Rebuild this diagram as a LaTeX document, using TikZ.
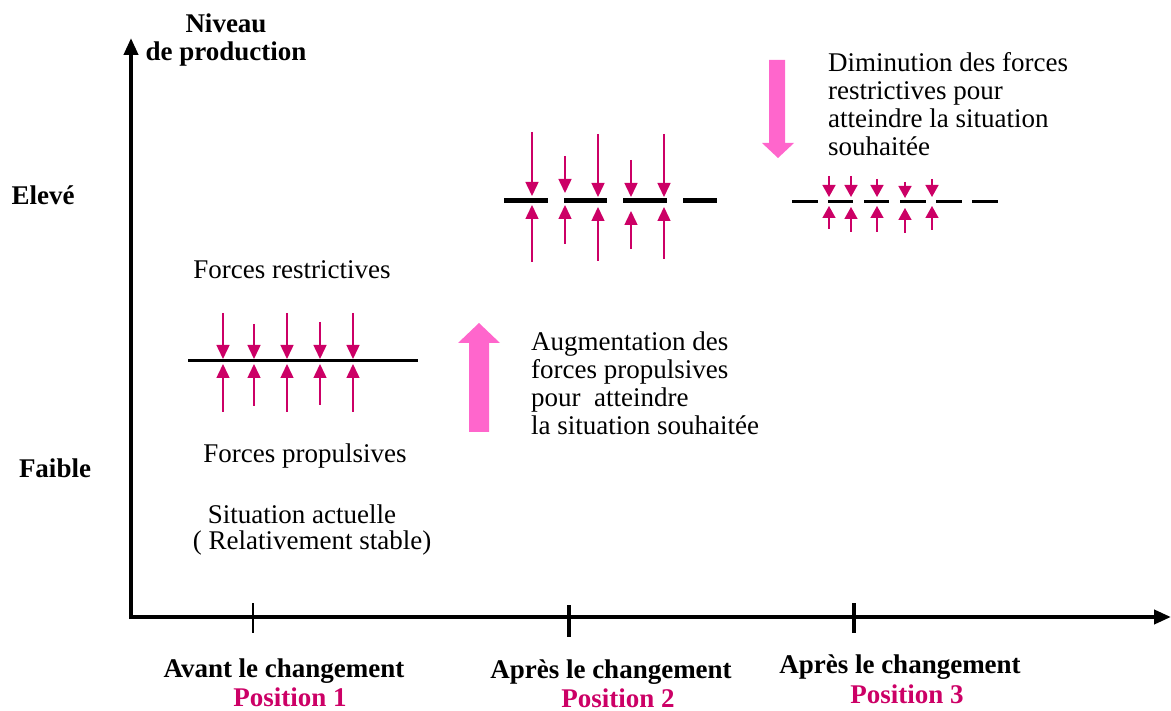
\documentclass[tikz,border=0pt]{standalone}
\usepackage{fontspec}
\setmainfont{Liberation Serif}
\usetikzlibrary{arrows.meta}
\definecolor{force}{HTML}{CC0066}
\definecolor{bigpink}{HTML}{FF66CC}
\tikzset{
  txt/.style={font=\fontsize{27}{28}\selectfont, inner sep=0pt},
  btxt/.style={font=\fontsize{27}{28}\selectfont\bfseries, inner sep=0pt},
  postxt/.style={btxt, text=force},
  axis/.style={line width=4pt, -{Triangle[length=17pt,width=14pt]}},
  tick/.style={line width=2.5pt},
  push/.style={force, line width=1.5pt, -{Triangle[length=14pt,width=13pt]}},
  smallpush/.style={force, line width=1.5pt, -{Triangle[length=12pt,width=13pt]}},
  level/.style={line width=3pt},
  thicklevel/.style={line width=5pt},
  block/.style={fill=bigpink, draw=none},
}
\begin{document}
\begin{tikzpicture}[x=1pt,y=-1pt]
\useasboundingbox (0,0) rectangle (1171,711);

% axes
\coordinate (origin) at (131,617);
\coordinate (ytop) at (131,38);
\coordinate (xend) at (1171,617);
\draw[axis] ([yshift=-2pt]origin) -- (ytop);
\draw[axis] ([xshift=-2pt]origin) -- (xend);

% ticks on the time axis
\draw[tick] (253,603) -- (253,633);
\draw[tick, line width=4pt] (569,605) -- (569,637);
\draw[tick, line width=4pt] (854,603) -- (854,633);

% axis labels
\node[btxt, align=center] (ylab) at (226,40) {Niveau\\de production};
\node[btxt] (high) at (43,195) {Elevé};
\node[btxt] (low) at (55,468) {Faible};

% position 1: current situation
\draw[level] (188,361) -- (418,361);
\foreach \x/\t/\b in {223/313/412, 254/324/406, 287/313/412, 320/322/405, 353/313/412}{
  \draw[push] (\x,\t) -- (\x,359);
  \draw[push] (\x,\b) -- (\x,364);
}
\node[txt] (restr) at (292,270) {Forces restrictives};
\node[txt] (propul) at (305,456) {Forces propulsives};
\node[txt] (actual) at (302,514) {Situation actuelle};
\node[txt] (stable) at (312,543) {( Relativement stable)};

% increase of driving forces
\filldraw[block] (469,432) -- (469,343) -- (458,343) -- (479,323) -- (500,343)
  -- (489,343) -- (489,432) -- cycle;
\node[txt, align=left, anchor=west] (incr) at (531,383)
  {Augmentation des\\forces propulsives\\pour~ atteindre\\la situation souhaitée};

% position 2
\foreach \a/\b in {504/548, 564/607, 623/667, 683/717}{
  \draw[thicklevel] (\a,201) -- (\b,201);
}
\foreach \x/\t/\dt/\ut/\b in {532/132/196/205/262, 565/156/193/205/244,
    598/134/197/207/261, 631/160/197/211/249, 664/134/197/207/259}{
  \draw[push] (\x,\t) -- (\x,\dt);
  \draw[push] (\x,\b) -- (\x,\ut);
}

% decrease of restraining forces
\filldraw[block] (769,60) -- (785,60) -- (785,143) -- (794,143) -- (778,158)
  -- (762,143) -- (769,143) -- cycle;
\node[txt, align=left, anchor=west] (decr) at (828,104)
  {Diminution des forces\\restrictives pour\\atteindre la situation\\souhaitée};

% position 3
\foreach \a/\b in {792/818, 828/853, 864/889, 900/926, 936/962, 972/998}{
  \draw[level] (\a,202) -- (\b,202);
}
\foreach \x/\t/\dt/\ut/\b in {829/176/197/206/229, 851/176/197/207/232,
    877/179/197/206/232, 905/182/198/208/233, 932/179/197/206/230}{
  \draw[smallpush] (\x,\t) -- (\x,\dt);
  \draw[smallpush] (\x,\b) -- (\x,\ut);
}

% time axis labels
\node[btxt] (t1) at (284,671) {Avant le changement};
\node[postxt] (p1) at (290,697) {Position 1};
\node[btxt] (t2) at (611,672) {Après le changement};
\node[postxt] (p2) at (618,698) {Position 2};
\node[btxt] (t3) at (900,667) {Après le changement};
\node[postxt] (p3) at (907,694) {Position 3};
\end{tikzpicture}
\end{document}
